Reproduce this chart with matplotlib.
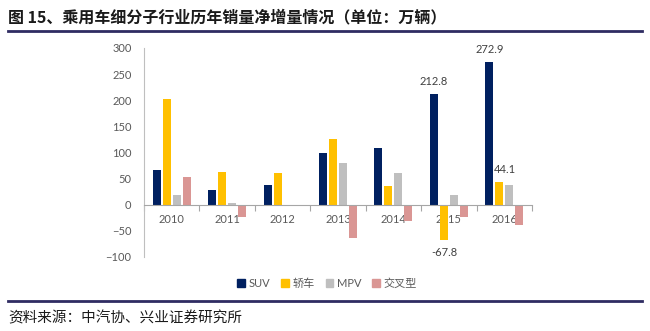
import matplotlib
matplotlib.use("Agg")
import matplotlib.pyplot as plt
import numpy as np
from matplotlib.lines import Line2D
from matplotlib.patches import Patch

plt.rcParams["font.family"] = ["Lato", "Noto Sans CJK SC", "DejaVu Sans"]

years = ["2010", "2011", "2012", "2013", "2014", "2015", "2016"]
series = ["SUV", "轿车", "MPV", "交叉型"]
suv = [66, 29, 38, 99, 109, 212.8, 272.9]
sedan = [202, 63, 61, 126, 36, -67.8, 44.1]
mpv = [19, 4, -1, 80, 60, 19, 38]
cross = [54, -24, -1, -64, -31, -24, -39]
colors = ["#002060", "#FFC000", "#BFBFBF", "#DA9694"]
labelled = [(0, 5), (0, 6), (1, 5), (1, 6)]  # (series index, year index)

TXT = "#595959"
fig = plt.figure(figsize=(6.5, 3.31), dpi=100)
ax = fig.add_axes([0.2215, 0.2236, 0.597, 0.6314])

xs = np.arange(len(years))
w, step = 0.145, 0.18
data = [suv, sedan, mpv, cross]
for k, (vals, c) in enumerate(zip(data, colors)):
    ax.bar(xs + (k - 1.5) * step, vals, w, color=c, label=series[k], zorder=2)

for k, j in labelled:
    v = data[k][j]
    x = xs[j] + (k - 1.5) * step
    if v >= 0:
        ax.annotate(f"{v:.1f}", (x + (0.1 if k == 1 else 0), v), xytext=(0, 5),
                    textcoords="offset points", ha="center", va="bottom",
                    fontsize=8, color="#404040")
    else:
        ax.annotate(f"{v:.1f}", (x, v), xytext=(0, -5), textcoords="offset points",
                    ha="center", va="top", fontsize=8, color="#404040")

ax.set_xlim(-0.5, len(years) - 0.5)
ax.set_ylim(-100, 300)
ax.set_yticks(np.arange(-100, 301, 50))
ax.set_xticks(xs)
ax.set_xticklabels(years)
ax.set_xticks(np.arange(-0.5, len(years), 1), minor=True)
ax.tick_params(axis="x", which="major", length=0, pad=7, labelsize=8, labelcolor=TXT)
ax.tick_params(axis="x", which="minor", length=4, direction="out", color="#A6A6A6", width=0.8)
ax.tick_params(axis="y", length=0, pad=9, labelsize=8, labelcolor=TXT)
for s in ["top", "right"]:
    ax.spines[s].set_visible(False)
ax.spines["bottom"].set_position(("data", 0))
ax.spines["bottom"].set_color("#A6A6A6")
ax.spines["left"].set_color("#BFBFBF")
ax.spines["bottom"].set_linewidth(0.8)
ax.spines["left"].set_linewidth(0.8)

handles = [Patch(color=c) for c in colors]
fig.legend(handles, series, loc="center", bbox_to_anchor=(0.503, 0.145), ncol=4,
           frameon=False, fontsize=8, handlelength=0.7, handleheight=0.7,
           handletextpad=0.3, columnspacing=1.0, labelcolor=TXT)

fig.text(0.012, 0.948, "图 15、乘用车细分子行业历年销量净增量情况（单位：万辆）",
         fontsize=11.5, fontweight="bold", color="#1a1a1a", va="center",
         family=["Noto Sans CJK SC", "DejaVu Sans"])
fig.add_artist(Line2D([0.012, 0.988], [0.907, 0.907], color="#2F2C62", lw=2))
fig.add_artist(Line2D([0.012, 0.988], [0.092, 0.092], color="#2F2C62", lw=2))
fig.text(0.012, 0.04, "资料来源：中汽协、兴业证券研究所", fontsize=10.5,
         color="#1a1a1a", va="center", family=["Noto Sans CJK SC", "DejaVu Sans"])

fig.savefig("out.png", dpi=100)
